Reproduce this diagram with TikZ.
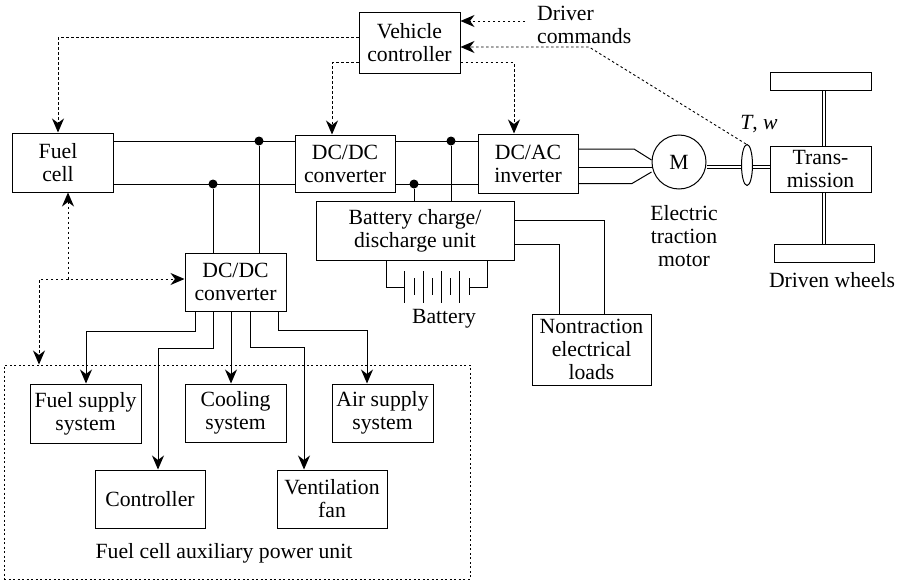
\documentclass[tikz,border=0pt]{standalone}
\usepackage{xcolor}
\usepackage{fontspec}
\setmainfont{Liberation Serif}
\usetikzlibrary{arrows.meta,shapes.geometric}
\tikzset{
	box/.style={draw, line width=1pt, inner sep=0pt, align=center, font=\fontsize{21.7}{23}\selectfont},
	txt/.style={inner sep=0pt, align=center, font=\fontsize{21.7}{23}\selectfont},
	wire/.style={line width=1pt},
	feed/.style={wire, -{Stealth[length=14pt,width=12pt,inset=4.5pt]}},
	ctrl/.style={line width=1pt, dash pattern=on 2.5pt off 2.5pt, -{Stealth[length=14pt,width=12pt,inset=4.5pt]}},
	ctrlb/.style={ctrl, {Stealth[length=14pt,width=12pt,inset=4.5pt]}-{Stealth[length=14pt,width=12pt,inset=4.5pt]}},
	shaft/.style={line width=1pt, double, double distance=2.6pt},
	dot/.style={circle, fill=black, inner sep=0pt, minimum size=9pt},
}
\begin{document}
\begin{tikzpicture}[x=1pt,y=-1pt]
	\useasboundingbox (0,0) rectangle (901,583);

	% boxes
	\node[box, minimum width=101, minimum height=61] (vc) at (409.5,43) {Vehicle\\controller};
	\node[box, minimum width=101, minimum height=59] (fc) at (62.5,162.5) {Fuel\hspace*{9pt}\\cell\hspace*{9pt}};
	\node[box, minimum width=100, minimum height=57] (conva) at (345,163.5) {DC/DC\\converter};
	\node[box, minimum width=100, minimum height=59] (inv) at (528,163.5) {DC/AC\\inverter};
	\node[box, minimum width=198, minimum height=59] (bcu) at (415,230.5) {Battery charge/\\discharge unit};
	\node[box, minimum width=101, minimum height=58] (convb) at (235.5,282) {DC/DC\\converter};
	\node[box, circle, minimum size=54] (mot) at (679,162) {M};
	\node[draw, line width=1pt, ellipse, minimum width=11, minimum height=41, inner sep=0pt] (sens) at (747,165) {};
	\node[box, minimum width=101, minimum height=46] (trans) at (820.5,169) {Trans-\\mission};
	\node[box, minimum width=101, minimum height=18] (whla) at (820.5,82) {};
	\node[box, minimum width=100, minimum height=18] (whlb) at (824,253) {};
	\node[box, minimum width=119, minimum height=71] (load) at (591.5,349.5) {Nontraction\\electrical\\loads};

	% auxiliary unit
	\node[draw, line width=1pt, dash pattern=on 2pt off 2.5pt, minimum width=466, minimum height=214, inner sep=0pt] (apu) at (237,472) {};
	\node[box, minimum width=111, minimum height=59] (fuelsys) at (85.5,413.5) {Fuel supply\\system};
	\node[box, minimum width=101, minimum height=58] (cool) at (235.5,413) {Cooling\\system};
	\node[box, minimum width=101, minimum height=58] (airsys) at (382.5,413) {Air supply\\system};
	\node[box, minimum width=110, minimum height=58] (ctrlr) at (150,499) {Controller};
	\node[box, minimum width=110, minimum height=58] (vent) at (332,499) {Ventilation\\fan};

	% labels
	\node[txt, align=left, anchor=west] (drv) at (537,25) {Driver\\commands};
	\node[txt] (tw) at (759,124) {\textit{T}, \textit{w}};
	\node[txt] (etm) at (684,236) {Electric\\traction\\motor};
	\node[txt] (dw) at (832,280) {Driven wheels};
	\node[txt] (batt) at (444,319) {Battery};
	\node[txt] (apulab) at (224,553) {Fuel cell auxiliary power unit};

	% levels of the buses
	\coordinate (busa) at (0,141);
	\coordinate (busb) at (0,184);
	\node[dot] (ja) at (259,141) {};
	\node[dot] (jb) at (213,184) {};
	\node[dot] (jc) at (451,141) {};
	\node[dot] (jd) at (414,184) {};

	\draw[wire] (fc.east |- busa) -- (conva.west |- busa);
	\draw[wire] (fc.east |- busb) -- (conva.west |- busb);
	\draw[wire] (conva.east |- busa) -- (inv.west |- busa);
	\draw[wire] (conva.east |- busb) -- (inv.west |- busb);
	\draw[wire] (ja) -- (ja |- convb.north);
	\draw[wire] (jb) -- (jb |- convb.north);
	\draw[wire] (jc) -- (jc |- bcu.north);
	\draw[wire] (jd) -- (jd |- bcu.north);

	% inverter to motor
	\coordinate (ma) at (634,149);
	\coordinate (mb) at (632,183.5);
	\draw[wire] (inv.east |- ma) -- (ma) -- (mot.west |- 0,160);
	\draw[wire] (inv.east |- 0,167) -- (mot.west |- 0,167);
	\draw[wire] (inv.east |- mb) -- (mb) -- (mot.west |- 0,172);

	% shafts
	\draw[shaft] (mot.east |- 0,167) -- (sens.west |- 0,167);
	\draw[shaft] (sens.east |- 0,167) -- (trans.west |- 0,167);
	\draw[shaft] (whla.south -| 824,0) -- (trans.north -| 824,0);
	\draw[shaft] (trans.south -| 824,0) -- (whlb.north -| 824,0);

	% loads
	\draw[wire] (bcu.east |- 0,220) -| (load.north -| 604,0);
	\draw[wire] (bcu.east |- 0,244) -| (load.north -| 559,0);

	% battery
	\coordinate (bl) at (404,287);
	\coordinate (br) at (469,287);
	\draw[wire] (bcu.south -| 386,0) |- (bl);
	\draw[wire] (bcu.south -| 487,0) |- (br);
	\foreach \x in {404,423,441,459} {
		\draw[wire] (\x,271) -- (\x,303);
	}
	\foreach \x in {414,432,450,469} {
		\draw[wire] (\x,278) -- (\x,295);
	}

	% control signals
	\draw[ctrl] (vc.west |- 0,38) -| ([xshift=-4.5pt]fc.north);
	\draw[ctrl] (vc.west |- 0,63) -| (conva.north -| 332,0);
	\draw[ctrl] (vc.east |- 0,63) -| (inv.north -| 514,0);
	\draw[ctrl, line width=0.9pt] (525,21) -- (vc.east |- 0,21);
	\draw[ctrl, line width=0.9pt] (sens.north) ++(-1,0) -- (589,47) -- (vc.east |- 0,47);
	\coordinate (sw) at (68,279);
	\draw[ctrlb] (fc.south -| sw) -- (sw) -- (convb.west |- sw);
	\draw[ctrl] (sw) -- (39,279) -- (apu.north -| 39,0);

	% converter outputs
	\draw[feed] (convb.south -| 195,0) -- (195,331) -| (fuelsys.north -| 86,0);
	\draw[feed] (convb.south -| 213,0) -- (213,348) -| (ctrlr.north -| 158,0);
	\draw[feed] (convb.south -| 231,0) -- (cool.north -| 231,0);
	\draw[feed] (convb.south -| 250,0) -- (250,347) -| (vent.north -| 304,0);
	\draw[feed] (convb.south -| 278,0) -- (278,330) -| (airsys.north -| 367,0);
\end{tikzpicture}
\end{document}
